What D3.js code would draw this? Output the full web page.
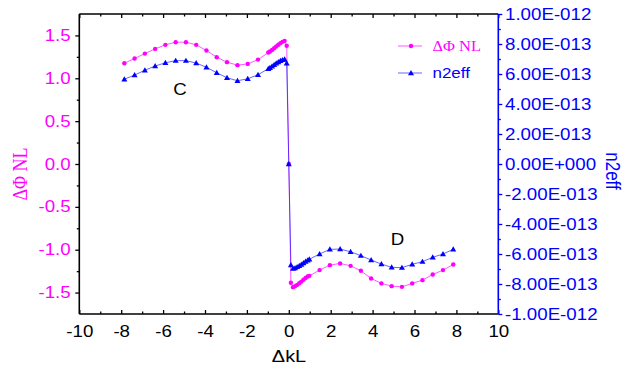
<!DOCTYPE html>
<html><head><meta charset="utf-8">
<script src="https://cdn.jsdelivr.net/npm/d3@7"></script>
<style>body{margin:0;background:#fff}svg{display:block}</style>
</head><body>
<svg id="c" width="636" height="371"></svg>
<script>
// ---- data ----
const xVals = [-7.85,-7.36,-6.87,-6.38,-5.89,-5.40,-4.91,-4.42,-3.93,-3.44,-2.95,-2.45,-1.96,-1.47,-0.98,
  -0.9,-0.8,-0.7,-0.6,-0.5,-0.4,-0.3,-0.2,-0.1,0,0.1,0.2,0.3,0.4,0.5,0.6,0.7,0.8,0.9,
  0.98,1.47,1.96,2.45,2.95,3.44,3.93,4.42,4.91,5.40,5.89,6.38,6.87,7.36,7.85];
const phiNL = [1.176,1.230,1.288,1.343,1.390,1.421,1.421,1.390,1.324,1.246,1.188,1.153,1.168,1.218,1.300,
  1.312,1.330,1.350,1.372,1.392,1.410,1.425,1.437,1.380,0,-1.385,-1.437,-1.425,-1.410,-1.392,-1.372,-1.350,-1.330,-1.312,
  -1.305,-1.238,-1.180,-1.160,-1.188,-1.246,-1.335,-1.393,-1.425,-1.433,-1.393,-1.355,-1.289,-1.238,-1.172];
const n2eff = [5.65e-13,5.93e-13,6.25e-13,6.53e-13,6.75e-13,6.89e-13,6.89e-13,6.73e-13,6.45e-13,6.08e-13,5.75e-13,5.55e-13,5.68e-13,5.95e-13,6.35e-13,
  6.42e-13,6.52e-13,6.62e-13,6.72e-13,6.80e-13,6.88e-13,6.94e-13,6.98e-13,6.71e-13,0,-6.73e-13,-6.97e-13,-6.93e-13,-6.86e-13,-6.78e-13,-6.70e-13,-6.60e-13,-6.50e-13,-6.42e-13,
  -6.35e-13,-6.00e-13,-5.69e-13,-5.67e-13,-5.85e-13,-6.11e-13,-6.40e-13,-6.67e-13,-6.89e-13,-6.91e-13,-6.69e-13,-6.51e-13,-6.22e-13,-6.00e-13,-5.69e-13];

const xTicks = [-10,-8,-6,-4,-2,0,2,4,6,8,10];
const xTickLabels = ["-10","-8","-6","-4","-2","0","2","4","6","8","10"];
const xMinor = [-9,-7,-5,-3,-1,1,3,5,7,9];
const leftTicks = [-1.5,-1.0,-0.5,0,0.5,1.0,1.5];
const leftTickLabels = ["-1.5","-1.0","-0.5","0.0","0.5","1.0","1.5"];
const leftMinor = [-1.25,-0.75,-0.25,0.25,0.75,1.25];
const rightTicks = [-1e-12,-8e-13,-6e-13,-4e-13,-2e-13,0,2e-13,4e-13,6e-13,8e-13,1e-12];
const rightTickLabels = ["-1.00E-012","-8.00E-013","-6.00E-013","-4.00E-013","-2.00E-013","0.00E+000",
  "2.00E-013","4.00E-013","6.00E-013","8.00E-013","1.00E-012"];
const rightMinor = [-9e-13,-7e-13,-5e-13,-3e-13,-1e-13,1e-13,3e-13,5e-13,7e-13,9e-13];

// ---- drawing ----
const SX = 1.17;
const SANS = "'Liberation Sans', Arial, sans-serif";
const SERIF = "'Liberation Serif', 'Times New Roman', serif";
const MAG = "#ff00ff", BLUE = "#0000ff";
const svg = d3.select("#c");
const x = d3.scaleLinear().domain([-10,10]).range([79.3,498.3]);
const yL = d3.scaleLinear().domain([-1.75,1.75]).range([314,14]);
const yR = d3.scaleLinear().domain([-1e-12,1e-12]).range([314,14]);

function stretchText(g){
  g.selectAll("text").each(function(){
    const t = d3.select(this);
    t.attr("x", (+t.attr("x")||0)/SX).attr("transform", `scale(${SX},1)`);
  });
}
function styleAxis(g, color, fcolor){
  g.select(".domain").remove();
  g.selectAll("line").attr("stroke", color).attr("stroke-width", 1.3);
  g.selectAll("text").attr("fill", fcolor).attr("font-family", SANS).attr("font-size", 16);
}

// left axis
const gl = svg.append("g").attr("transform", `translate(${x(-10)},0)`);
gl.call(d3.axisLeft(yL).tickValues(leftTicks).tickFormat((d,i)=>leftTickLabels[i]).tickSize(4).tickPadding(4.6).tickSizeOuter(0));
styleAxis(gl, "#000", MAG); stretchText(gl);
const glm = svg.append("g").attr("transform", `translate(${x(-10)},0)`);
glm.call(d3.axisLeft(yL).tickValues(leftMinor).tickFormat("").tickSize(2.5).tickSizeOuter(0));
styleAxis(glm, "#000", MAG);

// right axis
const gr = svg.append("g").attr("transform", `translate(${x(10)},0)`);
gr.call(d3.axisRight(yR).tickValues(rightTicks).tickFormat((d,i)=>rightTickLabels[i]).tickSize(4).tickPadding(2.7).tickSizeOuter(0));
styleAxis(gr, BLUE, BLUE); stretchText(gr);
const grm = svg.append("g").attr("transform", `translate(${x(10)},0)`);
grm.call(d3.axisRight(yR).tickValues(rightMinor).tickFormat("").tickSize(2.5).tickSizeOuter(0));
styleAxis(grm, BLUE, BLUE);

// bottom axis (inward ticks)
const gb = svg.append("g").attr("transform", `translate(0,${yL(-1.75)})`);
gb.call(d3.axisBottom(x).tickValues(xTicks).tickFormat((d,i)=>xTickLabels[i]).tickSize(-4).tickPadding(12).tickSizeOuter(0));
styleAxis(gb, "#000", "#000"); stretchText(gb);
const gbm = svg.append("g").attr("transform", `translate(0,${yL(-1.75)})`);
gbm.call(d3.axisBottom(x).tickValues(xMinor).tickFormat("").tickSize(-2.5).tickSizeOuter(0));
styleAxis(gbm, "#000", "#000");

// top axis (inward ticks)
const gt = svg.append("g").attr("transform", `translate(0,${yL(1.75)})`);
gt.call(d3.axisTop(x).tickValues(xTicks).tickFormat("").tickSize(-4).tickSizeOuter(0));
styleAxis(gt, "#000", "#000");
const gtm = svg.append("g").attr("transform", `translate(0,${yL(1.75)})`);
gtm.call(d3.axisTop(x).tickValues(xMinor).tickFormat("").tickSize(-2.5).tickSizeOuter(0));
styleAxis(gtm, "#000", "#000");

// frame lines
const [x0,x1] = x.range(), yT = yL(1.75), yB = yL(-1.75);
svg.append("line").attr("x1",x0).attr("x2",x1).attr("y1",yT).attr("y2",yT).attr("stroke","#000").attr("stroke-width",1.5);
svg.append("line").attr("x1",x0).attr("x2",x1).attr("y1",yB).attr("y2",yB).attr("stroke","#000").attr("stroke-width",1.6);
svg.append("line").attr("x1",x0).attr("x2",x0).attr("y1",yT).attr("y2",yB).attr("stroke","#000").attr("stroke-width",1.6);
svg.append("line").attr("x1",x1).attr("x2",x1).attr("y1",yT).attr("y2",yB).attr("stroke",BLUE).attr("stroke-width",1.6);

// series
const pts = xVals.map((xv,i)=>({x:xv, p:phiNL[i], n:n2eff[i]}));
const TRI = "M0,-3L3,2.2L-3,2.2Z";
svg.append("path").datum(pts).attr("fill","none").attr("stroke",MAG).attr("stroke-opacity",0.65).attr("stroke-width",1)
  .attr("d", d3.line().x(d=>x(d.x)).y(d=>yL(d.p)));
svg.append("g").selectAll("circle").data(pts).join("circle")
  .attr("cx",d=>x(d.x)).attr("cy",d=>yL(d.p)).attr("r",2.2).attr("fill",MAG);
svg.append("path").datum(pts).attr("fill","none").attr("stroke",BLUE).attr("stroke-opacity",0.6).attr("stroke-width",1)
  .attr("d", d3.line().x(d=>x(d.x)).y(d=>yR(d.n)));
svg.append("g").selectAll("path").data(pts).join("path")
  .attr("d",TRI).attr("transform",d=>`translate(${x(d.x)},${yR(d.n)})`).attr("fill",BLUE);

// legend
const lg = svg.append("g");
lg.append("line").attr("x1",398).attr("x2",422).attr("y1",46).attr("y2",46).attr("stroke",MAG).attr("stroke-opacity",0.65);
lg.append("circle").attr("cx",411).attr("cy",46).attr("r",2.2).attr("fill",MAG);
lg.append("text").attr("transform",`translate(432.5,51) scale(${SX},1)`).attr("font-family",SERIF).attr("font-size",14).attr("fill",MAG).text("ΔΦ NL");
lg.append("line").attr("x1",398).attr("x2",422).attr("y1",73).attr("y2",73).attr("stroke",BLUE).attr("stroke-opacity",0.6);
lg.append("path").attr("d",TRI).attr("transform","translate(411,73)").attr("fill",BLUE);
lg.append("text").attr("transform",`translate(432.5,78) scale(${SX},1)`).attr("font-family",SANS).attr("font-size",14.5).attr("fill",BLUE).text("n2eff");

// axis titles
svg.append("text").attr("transform",`translate(27,174) scale(${SX},1) rotate(-90)`).attr("text-anchor","middle")
  .attr("font-family",SERIF).attr("font-size",18).attr("fill",MAG).text("ΔΦ NL");
svg.append("text").attr("transform",`translate(606,171) scale(${SX},1) rotate(90)`).attr("text-anchor","middle")
  .attr("font-family",SANS).attr("font-size",17).attr("fill",BLUE).text("n2eff");
svg.append("text").attr("transform",`translate(289,362) scale(${SX},1)`).attr("text-anchor","middle")
  .attr("font-family",SANS).attr("font-size",17).attr("fill","#000").text("ΔkL");

// annotations
svg.append("text").attr("transform",`translate(180,95) scale(${SX},1)`).attr("text-anchor","middle")
  .attr("font-family",SANS).attr("font-size",16).attr("fill","#000").text("C");
svg.append("text").attr("transform",`translate(397.5,245) scale(${SX},1)`).attr("text-anchor","middle")
  .attr("font-family",SANS).attr("font-size",16).attr("fill","#000").text("D");
</script>
</body></html>
